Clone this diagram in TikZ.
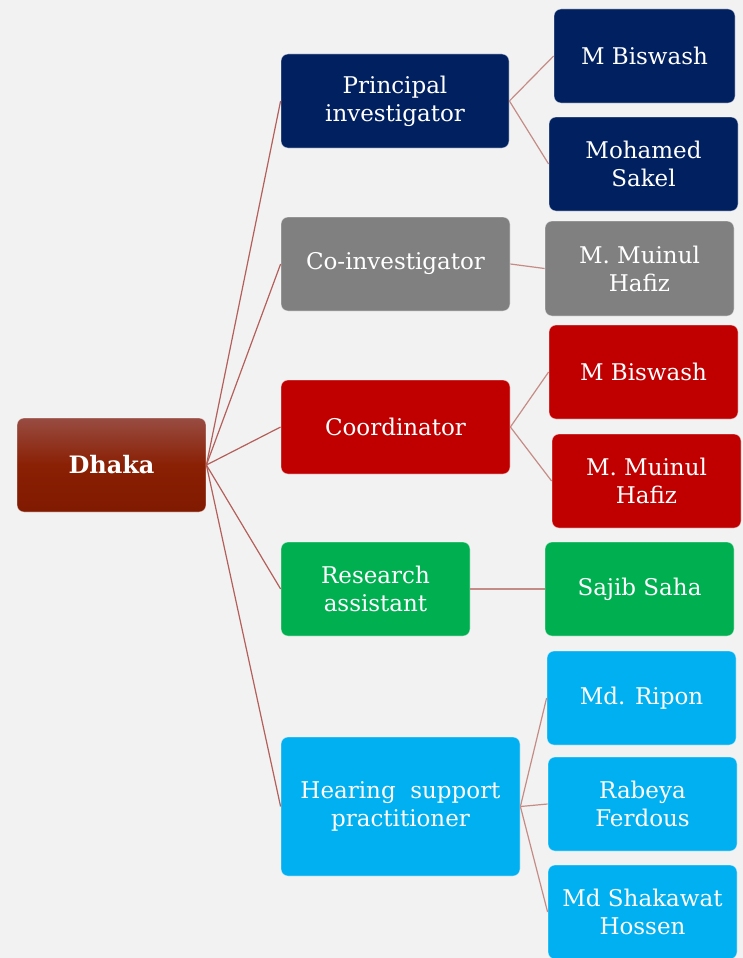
\documentclass[tikz,border=0pt]{standalone}
\usepackage{fontspec}
\setmainfont{DejaVu Serif}
\definecolor{bgc}{RGB}{242,242,242}
\definecolor{navy}{RGB}{0,32,96}
\definecolor{greyb}{RGB}{128,128,128}
\definecolor{redb}{RGB}{192,0,0}
\definecolor{greenb}{RGB}{0,176,80}
\definecolor{blueb}{RGB}{0,176,240}
\definecolor{linkA}{RGB}{180,96,90}
\definecolor{linkB}{RGB}{196,140,134}
\tikzset{
  box/.style={rounded corners=7pt, inner sep=0pt, align=center, text=white,
    draw=white, draw opacity=0.45, line width=0.8pt,
    font=\fontsize{23}{28}\selectfont},
  linkone/.style={draw=linkA, line width=1.2pt},
  linktwo/.style={draw=linkB, line width=1.2pt}
}
\newcommand{\boxat}[7]{% name, x0, y0, x1, y1, colour, text
  \node[box, fill=#6, minimum width={(#4-#2)*1pt}, minimum height={(#5-#3)*1pt}]
    (#1) at ({(#2+#4)/2},{(#3+#5)/2}) {#7};}
\begin{document}
\begin{tikzpicture}[x=1pt,y=-1pt]
\fill[bgc] (0,0) rectangle (743,958);
\useasboundingbox (0,0) rectangle (743,958);

% root
\node[box, top color={rgb,255:red,152;green,76;blue,66}, bottom color={rgb,255:red,128;green,26;blue,0},
  middle color={rgb,255:red,138;green,32;blue,4},
  minimum width=189pt, minimum height=94pt, font=\fontsize{24}{28}\selectfont\bfseries]
  (dhaka) at (111.5,465) {Dhaka};

% first level
\boxat{pi}{281}{54}{509}{148}{navy}{Principal\\investigator}
\boxat{coi}{281}{217}{510}{311}{greyb}{Co-investigator}
\boxat{coord}{281}{380}{510}{474}{redb}{Coordinator}
\boxat{ra}{281}{542}{470}{636}{greenb}{Research\\assistant}
\boxat{hsp}{281}{737}{520}{876}{blueb}{Hearing~~support\\practitioner}

% second level
\boxat{pia}{554}{9}{735}{103}{navy}{M Biswash}
\boxat{pib}{549}{117}{738}{211}{navy}{Mohamed\\Sakel}
\boxat{coia}{545}{221}{734}{316}{greyb}{M. Muinul\\Hafiz}
\boxat{coa}{549}{325}{738}{419}{redb}{M Biswash}
\boxat{cob}{552}{434}{741}{528}{redb}{M. Muinul\\Hafiz}
\boxat{raa}{545}{542}{734}{636}{greenb}{Sajib Saha}
\boxat{hsa}{547}{651}{736}{745}{blueb}{Md. Ripon}
\boxat{hsb}{548}{757}{737}{851}{blueb}{Rabeya\\Ferdous}
\boxat{hsc}{548}{865}{737}{959}{blueb}{Md Shakawat\\Hossen}

% connectors from the root
\foreach \t in {pi,coi,coord,ra,hsp}
  \draw[linkone] (dhaka.east) -- (\t.west);

% connectors to the people
\draw[linktwo] (pi.east) -- (pia.west);
\draw[linktwo] (pi.east) -- (pib.west);
\draw[linktwo] (coi.east) -- (coia.west);
\draw[linktwo] (coord.east) -- (coa.west);
\draw[linktwo] (coord.east) -- (cob.west);
\draw[linktwo] (ra.east) -- (raa.west);
\draw[linktwo] (hsp.east) -- (hsa.west);
\draw[linktwo] (hsp.east) -- (hsb.west);
\draw[linktwo] (hsp.east) -- (hsc.west);
\end{tikzpicture}
\end{document}
